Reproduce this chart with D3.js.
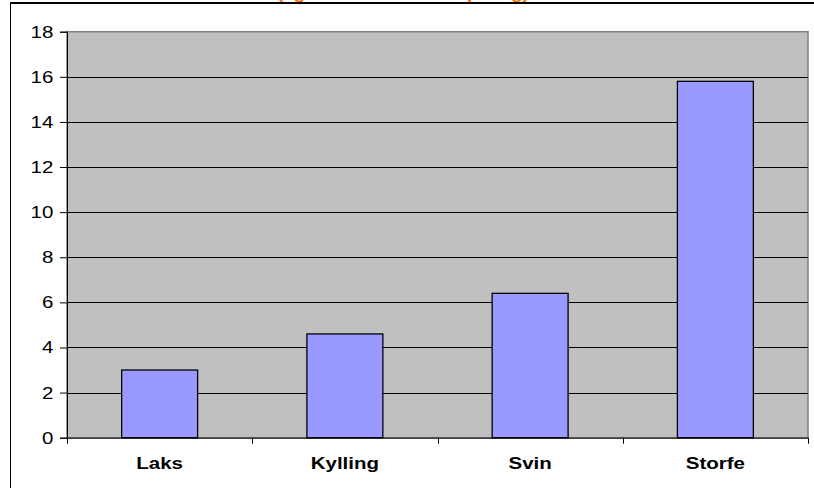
<!DOCTYPE html>
<html><head><meta charset="utf-8">
<script src="https://cdn.jsdelivr.net/npm/d3@7"></script>
<style>html,body{margin:0;padding:0;background:#fff;overflow:hidden}</style>
</head><body>
<svg id="c" width="814" height="488"></svg>
<script>
const categories = ["Laks", "Kylling", "Svin", "Storfe"];
const values = [3.0, 4.6, 6.4, 15.8];
const yTicks = [0, 2, 4, 6, 8, 10, 12, 14, 16, 18];
const titleText = "(kg CO2-ekvivalenter per kg)";

const svg = d3.select("#c");
const L = 67, R = 808, T = 31.7, B = 437.7;
const SX = 1.28; // horizontal text stretch
const FONT = "Liberation Sans, Arial, sans-serif";

// outer chart border
svg.append("rect").attr("x", 10.5).attr("y", 3).attr("width", 900).attr("height", 600)
  .attr("fill", "#fff").attr("stroke", "#000").attr("stroke-width", 1);

// title (cut off at top in the reference)
svg.append("text").attr("transform", `translate(403,-0.8) scale(${SX},1)`).attr("text-anchor", "middle")
  .attr("font-family", FONT).attr("font-weight", "bold")
  .attr("font-size", 14.5).attr("fill", "#FF6600").text(titleText);

svg.append("line").attr("x1", 10).attr("x2", 814).attr("y1", 3).attr("y2", 3)
  .attr("stroke", "#000").attr("stroke-width", 2);

const x = d3.scaleBand().domain(categories).range([L, R]).paddingInner(0.59).paddingOuter(0.295);
const xb = d3.scaleBand().domain(categories).range([L, R]);
const y = d3.scaleLinear().domain([0, 18]).range([B, T]);

// plot area
svg.append("rect").attr("x", L).attr("y", T).attr("width", R - L).attr("height", B - T)
  .attr("fill", "#C0C0C0").attr("stroke", "#808080").attr("stroke-width", 1.5);

// gridlines
svg.append("g").selectAll("line").data(yTicks.filter(d => d > 0 && d < 18)).join("line")
  .attr("x1", L).attr("x2", R).attr("y1", d => Math.round(y(d)) + 0.5).attr("y2", d => Math.round(y(d)) + 0.5)
  .attr("stroke", "#000").attr("stroke-width", 1);

// bars
svg.append("g").selectAll("rect").data(values).join("rect")
  .attr("x", (d, i) => x(categories[i]))
  .attr("y", d => y(d))
  .attr("width", x.bandwidth())
  .attr("height", d => B - y(d))
  .attr("fill", "#9999FF").attr("stroke", "#000").attr("stroke-width", 1.3);

// y axis
const yAxis = d3.axisLeft(y).tickValues(yTicks).tickSize(7).tickPadding(6);
const gy = svg.append("g").attr("transform", `translate(${L},0)`).call(yAxis);
gy.select(".domain").attr("stroke", "#000");
gy.selectAll(".tick line").attr("stroke", "#000");
gy.selectAll("text").attr("font-family", FONT).attr("font-size", 16).attr("fill", "#000")
  .attr("x", -13.7 / SX).attr("dy", 0).attr("y", 5.5)
  .attr("transform", `scale(${SX},1)`);

// x axis
const gx = svg.append("g").attr("transform", `translate(0,${B})`);
gx.append("line").attr("x1", L).attr("x2", R).attr("y1", 0.5).attr("y2", 0.5).attr("stroke", "#000");
const bounds = categories.map(c => xb(c)).concat([R]);
gx.selectAll("line.t").data(bounds).join("line").attr("class", "t")
  .attr("x1", d => Math.round(d) + 0.5).attr("x2", d => Math.round(d) + 0.5)
  .attr("y1", 0).attr("y2", 6).attr("stroke", "#000");
gx.selectAll("text").data(categories).join("text")
  .attr("transform", d => `translate(${xb(d) + xb.bandwidth() / 2},31.5) scale(${SX},1)`)
  .attr("text-anchor", "middle")
  .attr("font-family", FONT).attr("font-weight", "bold")
  .attr("font-size", 16).attr("fill", "#000").text(d => d);
</script>
</body></html>
